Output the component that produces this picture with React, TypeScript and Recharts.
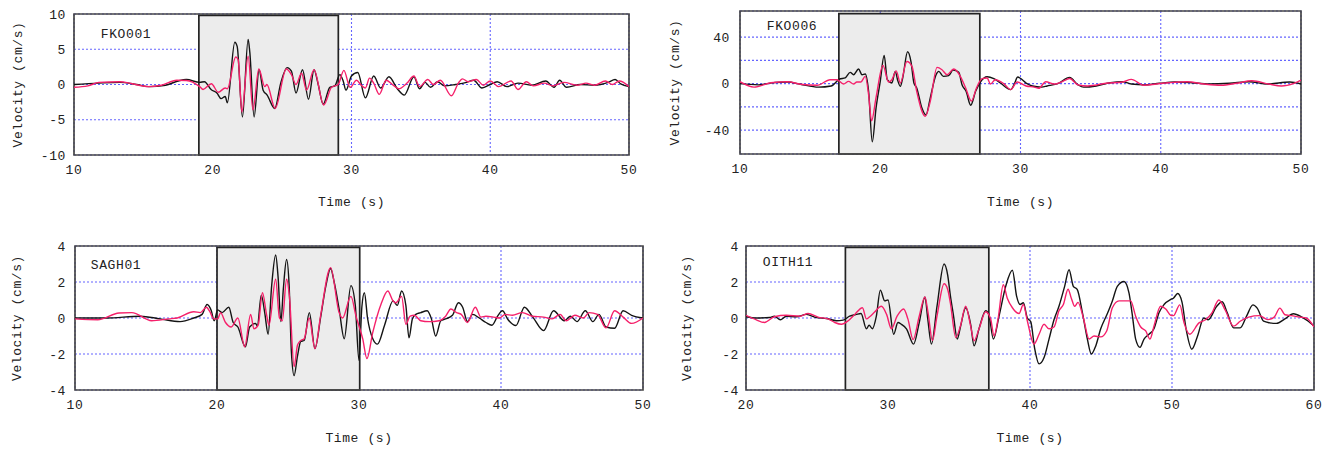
import React from 'react';
import { LineChart, Line, XAxis, YAxis, CartesianGrid, ReferenceArea } from 'recharts';

type Pt = [number, number];

// ---- FKO001 (time s, velocity cm/s) ----
const FKO001_OBS: Pt[] = [
  [10, 0], [11.8, 0.2], [13.3, 0.3], [14.5, 0], [15.4, -0.3], [16.6, -0.1], [17.5, 0.5], [18.1, 0.7],
  [19.06, 0.3], [19.4, 0.4], [19.9, -0.75], [20.3, -1.2], [20.6, -2.0], [20.9, -1.7], [21.05, -2.6],
  [21.59, 6.0], [21.76, 5.4], [22.14, -4.6], [22.55, 6.4], [22.67, 4.6], [22.98, -4.6], [23.34, 2.1],
  [23.63, -0.8], [23.92, -1.5], [24.47, -3.4], [24.9, 0.2], [25.36, 2.4], [25.67, 1.9], [26.0, -1.2],
  [26.47, 2.1], [26.9, -2.1], [27.3, 2.1], [27.6, 0], [27.96, -2.8], [28.44, -0.4], [28.8, -0.2],
  [29.16, 1.4], [29.4, 0.5], [29.6, -0.8], [30.0, 1.2], [30.45, 1.7], [31.0, -1.9], [31.6, 1.2],
  [32.1, -0.5], [32.7, 1.1], [33.3, -0.6], [33.8, -1.5], [34.5, 1.1], [34.9, -0.6], [35.3, 0.3],
  [35.7, -0.4], [36.2, 0.4], [36.7, -0.2], [37.5, 0], [38.3, 0.3], [38.8, 0.6], [39.4, -0.5], [40, 0],
  [40.5, 0.4], [41.2, -0.3], [42, 0.2], [43, -0.1], [44, 0.5], [44.6, -0.4], [45.0, 0.6], [45.5, -0.4],
  [46.5, 0], [47.5, -0.1], [48.5, 0.3], [49.0, 0.7], [49.4, 0.1], [50, -0.3],
];
const FKO001_SYN: Pt[] = [
  [10, -0.4], [11.0, -0.2], [11.8, 0.3], [13.3, 0.4], [14.2, 0.1], [15.4, -0.3], [16.3, -0.1], [17.4, 0.6],
  [18.1, 0.57], [19.06, -0.3], [19.3, -0.7], [19.9, 0.1], [20.4, -1.1], [20.9, -0.5], [21.05, -0.6],
  [21.66, 3.9], [21.83, 3.5], [22.1, -3.9], [22.55, 4.0], [22.9, -3.6], [23.32, 2.2], [23.75, -0.3],
  [23.9, 0], [24.5, -3.4], [25.3, 2.2], [25.67, 1.4], [26.0, 0], [26.4, 1.6], [26.76, -0.8], [27.3, 2.1],
  [28.0, -2.9], [28.56, -0.4], [29.04, 0], [29.45, 2.0], [29.9, -0.4], [30.36, 0.6], [30.7, -0.1],
  [31.0, -0.5], [31.3, 0.9], [31.6, 0.2], [32.0, -1.4], [32.5, 0.6], [33.0, -0.1], [33.4, -0.6],
  [34.0, 0.2], [34.5, 1.2], [34.9, -0.3], [35.5, 0.7], [35.9, 0], [36.4, 0.6], [37.2, -1.6], [37.7, 0.2],
  [38.0, 0.8], [38.4, 0.4], [39.0, 0.7], [39.5, -0.1], [40.0, 0.5], [40.6, -0.3], [41.5, 0.5],
  [42.0, -0.7], [42.6, 0.4], [43.1, -0.2], [43.9, 0.2], [44.5, -0.2], [45.3, 0.3], [46.3, -0.1],
  [46.9, 0.2], [47.5, -0.1], [48.3, 0.5], [48.8, 0], [49.3, 0.5], [50, -0.3],
];

// ---- FKO006 ----
const FKO006_OBS: Pt[] = [
  [10, 0], [11.3, -1], [12.5, 1], [13.4, 1.4], [14.3, -0.5], [15.6, -3], [16.5, -2], [17.1, 4], [17.5, 5],
  [17.86, 9.7], [18.1, 7.7], [18.45, 12.6], [18.7, 7.7], [18.93, 8.3], [19.17, -6.6], [19.43, -50],
  [19.7, -21], [20.0, 2], [20.28, 24.3], [20.5, 3.4], [20.83, 0.6], [21.07, 10.6], [21.24, 3],
  [21.43, -2.3], [21.6, 4.9], [21.95, 27.4], [22.19, 19], [22.4, 0.6], [22.6, -3.7], [22.97, -21],
  [23.26, -27], [23.57, -12], [23.98, 7.7], [24.17, 10.6], [24.5, 6.3], [24.88, 6.9], [25.19, 11.7],
  [25.6, 9.7], [25.83, -0.9], [26.12, -6.6], [26.45, -18.6], [26.8, -6.6], [27.14, 1.4], [27.62, 6],
  [28.1, 4.3], [28.57, 0.6], [29.3, -5.1], [29.57, 0], [29.8, 5.7], [30.0, 4.5], [30.4, 0.5],
  [30.85, -2], [31.5, -3], [31.9, -2], [32.7, 0.3], [33.5, 5.4], [34.1, -1], [34.5, -3], [35.4, -2],
  [36.4, 0.8], [37.3, 1.7], [37.9, -0.3], [38.8, -1], [39.9, 0.3], [41, 1.4], [42.2, 0.8], [43.4, -0.3],
  [44.9, 0.3], [46.3, 1.7], [47.6, -0.3], [49.2, 1.4], [50, -0.3],
];
const FKO006_SYN: Pt[] = [
  [10, 1.7], [11, -3], [12.2, 0.8], [13.4, 1.7], [14.3, -0.5], [15.5, -1.4], [16.43, 3.4], [16.9, 3.4],
  [17.38, -0.3], [17.74, 2], [18.1, -0.3], [18.33, 1.4], [18.62, 1.4], [18.93, 6.3], [19.17, -9.4],
  [19.38, -32], [19.7, -12], [20.19, 15.7], [20.6, 1.4], [20.83, 3.4], [21.14, 11], [21.43, 0.6],
  [21.9, 19], [22.26, 14.9], [22.6, -6.6], [23.21, -28], [23.57, -15], [24.05, 14], [24.4, 12],
  [24.76, 7.7], [25.24, 12.6], [25.71, 6.3], [26.07, -3.1], [26.5, -15], [26.86, -3.7], [27.26, 4.3],
  [27.62, 4.9], [27.86, -0.3], [28.2, 3.4], [28.81, 0], [29.3, -5.1], [29.76, 1.4], [30.4, -2],
  [31.0, -3], [31.3, -4], [31.8, 1.7], [32.4, -0.3], [33.2, 3], [33.5, 4.5], [34.1, -1], [34.8, -2],
  [36.1, 0.3], [37.3, 1.4], [37.9, 3.7], [38.8, -1.4], [39.7, -0.3], [40.6, 0.8], [41.9, 1.7],
  [43.1, -0.3], [44.3, -1.4], [45.4, 0.3], [46.5, 2.5], [47.7, -0.3], [48.6, -2], [49.5, 0.3], [50, 3],
];

// ---- SAGH01 ----
const SAGH01_OBS: Pt[] = [
  [10, 0], [12.2, 0], [14.6, 0.1], [16.0, -0.05], [17.4, -0.2], [18.36, 0], [18.95, 0.2], [19.3, 0.75],
  [19.6, 0.4], [19.8, -0.15], [20.05, 0.45], [20.36, 0.3], [20.83, 0.6], [21.14, -0.25], [21.47, -0.5],
  [22.0, -1.6], [22.3, -0.5], [22.72, -0.3], [22.84, -0.45], [23.12, 1.27], [23.36, 0.3], [23.6, -0.9],
  [23.85, 1.8], [24.13, 3.5], [24.3, 2.3], [24.5, -0.2], [24.67, 1.6], [24.9, 3.25], [25.08, 1.8],
  [25.24, -1.9], [25.43, -3.2], [25.67, -2.1], [25.9, -1.3], [26.14, -1.25], [26.5, 0.3], [26.9, -1.7],
  [27.3, 0.05], [27.67, 1.8], [28.0, 2.75], [28.25, 2.0], [28.6, 0.5], [28.96, -1.15], [29.43, 1.8],
  [29.74, 0.7], [30.0, -2.35], [30.2, 0.6], [30.38, 1.4], [30.6, 0], [30.97, -1.15], [31.3, -1.45],
  [31.8, -0.4], [32.4, 0.95], [32.7, 0.7], [33.0, 1.5], [33.3, 0.7], [33.52, -1.1], [33.76, -0.05],
  [34.0, 0.2], [34.35, 0.3], [34.8, 0.4], [35.1, -0.05], [35.4, -1.0], [35.76, -0.15], [36.1, -0.05],
  [36.58, 0.15], [37.0, 0.85], [37.3, 0.6], [37.64, -0.2], [38.0, 0.2], [38.47, 0], [38.94, -0.25],
  [39.36, -0.4], [39.76, 0.1], [40.1, 0.4], [40.5, -0.1], [41.05, -0.42], [41.65, 0.6], [42.24, 0.05],
  [43.0, -0.7], [43.7, 0.4], [44.46, -0.15], [44.9, 0.1], [45.35, -0.2], [45.94, 0.4], [46.47, -0.2],
  [46.9, 0.2], [47.4, -0.5], [48.0, -0.57], [48.6, 0.4], [49.2, 0.15], [50, 0],
];
const SAGH01_SYN: Pt[] = [
  [10, -0.05], [11.6, -0.1], [13.1, 0.28], [14.0, 0.3], [15.4, -0.15], [16.6, -0.05], [17.2, 0],
  [18.36, 0.35], [18.83, 0.3], [19.25, 0.6], [19.5, 0.35], [19.77, -0.05], [20.05, -0.05], [20.25, 0.3],
  [20.6, -0.25], [21.0, -0.5], [21.47, 0], [21.95, -1.6], [22.37, 0.2], [22.6, -0.6], [22.9, -0.4],
  [23.2, 1.4], [23.5, 0.15], [23.66, -0.4], [24.13, 2.15], [24.4, 0], [24.6, -0.15], [24.9, 2.15],
  [25.1, 1.2], [25.43, -2.7], [25.67, -1.5], [25.9, -1.25], [26.14, -1.15], [26.49, 0], [26.9, -1.7],
  [27.3, 0.15], [28.0, 2.8], [28.6, 0.3], [28.84, 0], [29.43, 1.2], [29.79, 0.1], [30.26, -1.15],
  [30.56, -2.25], [30.97, -0.8], [31.55, 0.77], [32.03, 1.5], [32.4, 0.95], [32.6, 0.85], [33.0, 1.2],
  [33.3, -0.35], [33.6, 0.1], [33.9, 0.15], [34.35, -0.15], [34.94, -0.2], [35.64, -0.15], [36.1, 0.1],
  [36.47, 0.5], [36.87, 0.3], [37.2, 0.2], [37.64, -0.25], [38.19, 0.6], [38.59, 0.05], [38.94, 0.1],
  [39.5, 0.05], [39.88, 0], [40.3, 0.2], [40.8, 0.15], [41.5, 0.3], [42.2, 0.1], [43.0, 0.05],
  [43.6, -0.05], [44.16, 0.2], [44.6, -0.15], [45.2, 0.15], [45.8, 0], [46.2, 0.3], [46.8, 0.2],
  [47.4, -0.55], [48.0, 0.4], [48.6, 0.05], [49.2, -0.3], [50, 0],
];

// ---- OITH11 ----
const OITH11_OBS: Pt[] = [
  [20, 0.07], [20.73, 0], [21.67, 0.03], [22.0, 0.1], [22.42, -0.1], [22.84, 0.1], [23.55, 0.07],
  [24.25, 0.2], [24.96, 0.02], [25.66, -0.03], [26.37, -0.15], [26.84, -0.12], [27.3, 0.1], [27.77, 0.2],
  [28.1, 0.25], [28.48, -0.6], [28.67, -0.4], [28.9, -0.6], [29.18, 0.1], [29.46, 1.55], [29.77, 0.95],
  [30.0, 1.0], [30.4, -0.9], [30.7, -0.25], [30.94, -0.35], [31.3, -0.6], [31.8, -1.45], [32.2, -0.25],
  [32.6, 1.17], [32.8, -0.05], [33.06, -1.45], [33.45, 0.65], [33.95, 3.0], [34.2, 2.4], [34.4, 1.2],
  [34.6, 0.2], [34.88, -1.17], [35.1, -0.5], [35.47, 0.57], [35.82, -0.35], [36.06, -1.55], [36.41, -0.6],
  [36.88, 0.4], [37.1, 0.2], [37.42, -1.17], [37.82, 0.1], [38.29, 1.76], [38.76, 2.65], [39.06, 1.2],
  [39.3, 0.75], [39.53, 0.85], [39.81, 0], [40.05, -0.2], [40.33, -1.7], [40.64, -2.55], [40.99, -2.2],
  [41.34, -1.17], [41.69, -0.1], [42.04, 0.65], [42.44, 1.76], [42.75, 2.68], [43.05, 1.76],
  [43.33, 1.58], [43.69, 0.3], [44.04, -1.17], [44.32, -2.0], [44.63, -1.55], [44.98, -0.6],
  [45.45, 0.25], [45.8, 0.95], [46.15, 1.76], [46.62, 2.03], [46.97, 1.4], [47.2, 0.2], [47.44, -1.17],
  [47.75, -1.63], [48.03, -1.17], [48.38, -0.9], [48.73, -0.6], [49.09, 0.3], [49.44, 0.75],
  [49.91, 1.03], [50.1, 1.1], [50.4, 1.36], [50.7, 0.9], [51.0, -0.64], [51.4, -1.73], [51.8, -1.0],
  [52.24, 0], [52.55, -0.1], [53.14, 0.64], [53.53, 0.9], [53.9, 0.27], [54.34, -0.55], [54.8, -0.55],
  [55.25, 0.1], [55.7, 0.73], [56.0, 0.55], [56.45, -0.18], [56.9, -0.27], [57.35, -0.3], [57.95, -0.05],
  [58.55, 0.24], [59.15, 0.05], [59.6, -0.18], [60, -0.45],
];
const OITH11_SYN: Pt[] = [
  [20, 0.15], [20.73, -0.1], [21.3, -0.25], [22.0, 0.07], [22.84, 0.15], [23.8, 0.1], [24.37, 0.25],
  [25.07, 0.05], [25.78, -0.05], [26.25, -0.25], [26.72, -0.35], [27.2, -0.15], [27.66, 0.2],
  [28.2, 0.57], [28.48, -0.05], [28.71, 0.07], [29.06, 0.33], [29.53, 0.65], [29.9, 0.2], [30.24, -0.6],
  [30.64, 0.1], [31.1, 0.5], [31.4, -0.05], [31.77, -1.2], [32.2, 0.1], [32.6, 1.17], [32.82, 0.3],
  [33.13, -1.25], [33.45, 0.1], [33.95, 1.9], [34.2, 1.6], [34.4, 0.8], [34.77, -1.08], [35.1, -0.45],
  [35.47, 0.65], [35.82, -0.45], [36.06, -1.27], [36.41, -0.6], [36.88, 0.35], [37.23, -0.05],
  [37.47, -1.0], [37.75, -0.05], [38.12, 1.85], [38.4, 1.1], [38.76, 0.57], [39.23, 0.25], [39.53, 0.75],
  [39.81, -0.15], [40.28, -1.45], [40.64, -0.9], [40.99, -0.35], [41.34, -0.6], [41.69, -0.5],
  [42.04, 0.4], [42.35, 0.75], [42.68, 1.6], [42.91, 1.1], [43.15, 0.65], [43.38, 0.87], [43.76, 0],
  [44.16, -1.17], [44.51, -1.0], [44.98, -1.05], [45.4, -0.72], [45.8, 0.57], [46.27, 0.95],
  [47.09, 0.95], [47.44, 0.1], [47.8, -0.5], [48.15, -0.72], [48.45, -1.17], [48.73, -0.45], [49.2, 0.65],
  [49.56, 0.5], [49.91, 0.15], [50.1, 0.13], [50.55, 0.73], [50.85, -0.27], [51.25, -0.9], [51.9, -0.27],
  [52.36, -0.1], [52.8, 0.27], [53.3, 1.0], [53.74, 0.45], [54.34, -0.45], [54.8, -0.18], [55.4, 0.05],
  [56.15, 0.13], [56.75, -0.09], [57.2, 0.05], [57.6, 0.55], [57.95, 0.18], [58.4, 0.13], [59.0, 0.05],
  [59.45, 0], [60, -0.5],
];

// ---- axes / ticks ----
const TICKS_10_50 = [10, 20, 30, 40, 50];
const TICKS_20_60 = [20, 30, 40, 50, 60];
const TICKS_V10 = [-10, -5, 0, 5, 10];
const TICKS_V40 = [-40, -20, 0, 20, 40];
const TICKS_V4 = [-4, -2, 0, 2, 4];
const HIDDEN_V40 = [-20, 20];

const FONT = '"Liberation Mono", "DejaVu Sans Mono", monospace';
const TEXT_COLOR = '#222';
const OBS_COLOR = '#141414';
const SYN_COLOR = '#f5206a';
const GRID_COLOR = '#6565ff';

type PanelCfg = {
  station: string;
  left: number; top: number; width: number; height: number;
  margin: { top: number; right: number; bottom: number; left: number };
  yAxisWidth: number; xAxisHeight: number; tickMarginY: number;
  xDomain: [number, number]; xTicks: number[];
  yDomain: [number, number]; yTicks: number[]; hiddenY?: number[];
  box: [number, number, number];
  stationCenter: [number, number];
  yLabelX: number; xLabelDy: number;
  obs: Pt[]; syn: Pt[];
};

const PANELS: PanelCfg[] = [
  {
    station: 'FKO001', left: 0, top: 0, width: 660, height: 230,
    margin: { top: 14, right: 31, bottom: 15, left: 0 }, yAxisWidth: 74, xAxisHeight: 60, tickMarginY: 2,
    xDomain: [10, 50], xTicks: TICKS_10_50, yDomain: [-10, 10], yTicks: TICKS_V10,
    box: [19, 29.05, 9.8], stationCenter: [126, 35], yLabelX: 18, xLabelDy: 47,
    obs: FKO001_OBS, syn: FKO001_SYN,
  },
  {
    station: 'FKO006', left: 660, top: 0, width: 672, height: 230,
    margin: { top: 11, right: 31, bottom: 16, left: 0 }, yAxisWidth: 80, xAxisHeight: 60, tickMarginY: 4,
    xDomain: [10, 50], xTicks: TICKS_10_50, yDomain: [-60.5, 62.5], yTicks: TICKS_V40, hiddenY: HIDDEN_V40,
    box: [17.05, 27.1, 60.3], stationCenter: [132, 27], yLabelX: 15, xLabelDy: 48,
    obs: FKO006_OBS, syn: FKO006_SYN,
  },
  {
    station: 'SAGH01', left: 0, top: 230, width: 660, height: 219,
    margin: { top: 16, right: 17, bottom: 4, left: 0 }, yAxisWidth: 75, xAxisHeight: 55, tickMarginY: 3,
    xDomain: [10, 50], xTicks: TICKS_10_50, yDomain: [-4, 4], yTicks: TICKS_V4,
    box: [20, 30.05, 3.92], stationCenter: [116, 36], yLabelX: 17, xLabelDy: 48,
    obs: SAGH01_OBS, syn: SAGH01_SYN,
  },
  {
    station: 'OITH11', left: 660, top: 230, width: 672, height: 219,
    margin: { top: 16, right: 18, bottom: 4, left: 0 }, yAxisWidth: 86, xAxisHeight: 55, tickMarginY: 1,
    xDomain: [20, 60], xTicks: TICKS_20_60, yDomain: [-4, 4], yTicks: TICKS_V4,
    box: [27, 37.1, 3.92], stationCenter: [128, 33], yLabelX: 27.6, xLabelDy: 48,
    obs: OITH11_OBS, syn: OITH11_SYN,
  },
];

const textStyle: React.CSSProperties = { fontFamily: FONT, fontSize: 13, letterSpacing: 0.6 };

const toRows = (pts: Pt[]) => pts.map(([t, v]) => ({ t, v }));

function Panel({ cfg }: { cfg: PanelCfg }) {
  const obs = toRows(cfg.obs);
  const syn = toRows(cfg.syn);
  const hidden = cfg.hiddenY || [];
  const yLabel = (props: any) => {
    const vb = props.viewBox || { x: 0, y: cfg.margin.top, width: cfg.yAxisWidth, height: 140 };
    const x = vb.x + cfg.yLabelX;
    const y = vb.y + vb.height / 2;
    return (
      <text x={x} y={y} transform={`rotate(-90 ${x} ${y})`} textAnchor="middle" dominantBaseline="central"
        fill={TEXT_COLOR} style={textStyle}>Velocity (cm/s)</text>
    );
  };
  const xLabel = (props: any) => {
    const vb = props.viewBox || { x: cfg.yAxisWidth, y: 155, width: 555, height: 60 };
    return (
      <text x={vb.x + vb.width / 2} y={vb.y + cfg.xLabelDy} textAnchor="middle" dominantBaseline="central"
        fill={TEXT_COLOR} style={textStyle}>Time (s)</text>
    );
  };
  const tickStyle = { fill: TEXT_COLOR, fontFamily: FONT, fontSize: 13, letterSpacing: 0.6 };
  return (
    <div style={{ position: 'absolute', left: cfg.left, top: cfg.top, width: cfg.width, height: cfg.height }}>
      <LineChart width={cfg.width} height={cfg.height} margin={cfg.margin}>
        <CartesianGrid stroke={GRID_COLOR} strokeDasharray="2 2" strokeWidth={1.1} />
        <XAxis type="number" dataKey="t" domain={cfg.xDomain} ticks={cfg.xTicks} allowDataOverflow
          height={cfg.xAxisHeight} axisLine={false} tickLine={false} tickSize={6} tickMargin={4}
          tick={tickStyle} label={xLabel} interval={0} />
        <YAxis type="number" domain={cfg.yDomain} ticks={cfg.yTicks} allowDataOverflow
          width={cfg.yAxisWidth} axisLine={false} tickLine={false} tickSize={6} tickMargin={cfg.tickMarginY}
          tick={tickStyle} interval={0}
          tickFormatter={(v: number) => (hidden.includes(v) ? '' : String(v))} label={yLabel} />
        <ReferenceArea x1={cfg.box[0]} x2={cfg.box[1]} y1={cfg.yDomain[0]} y2={cfg.box[2]}
          fill="#ececec" fillOpacity={1} stroke="#222" strokeWidth={1.7} ifOverflow="visible" />
        <ReferenceArea x1={cfg.xDomain[0]} x2={cfg.xDomain[1]} y1={cfg.yDomain[0]} y2={cfg.yDomain[1]}
          fill="none" stroke="#474747" strokeWidth={1.7} ifOverflow="visible" />
        <Line data={obs} dataKey="v" type="monotone" stroke={OBS_COLOR} strokeWidth={1.4} dot={false}
          activeDot={false} isAnimationActive={false} />
        <Line data={syn} dataKey="v" type="monotone" stroke={SYN_COLOR} strokeWidth={1.4} dot={false}
          activeDot={false} isAnimationActive={false} />
      </LineChart>
      <div style={{
        position: 'absolute', left: cfg.stationCenter[0], top: cfg.stationCenter[1],
        transform: 'translate(-50%, -50%)', fontFamily: FONT, fontSize: 13, letterSpacing: 0.6, lineHeight: '14px',
        color: TEXT_COLOR, whiteSpace: 'nowrap',
      }}>{cfg.station}</div>
    </div>
  );
}

export default function App() {
  return (
    <div style={{ position: 'absolute', left: 0, top: 0, width: 1332, height: 449, background: '#fff', overflow: 'hidden' }}>
      {PANELS.map((p) => <Panel key={p.station} cfg={p} />)}
    </div>
  );
}
